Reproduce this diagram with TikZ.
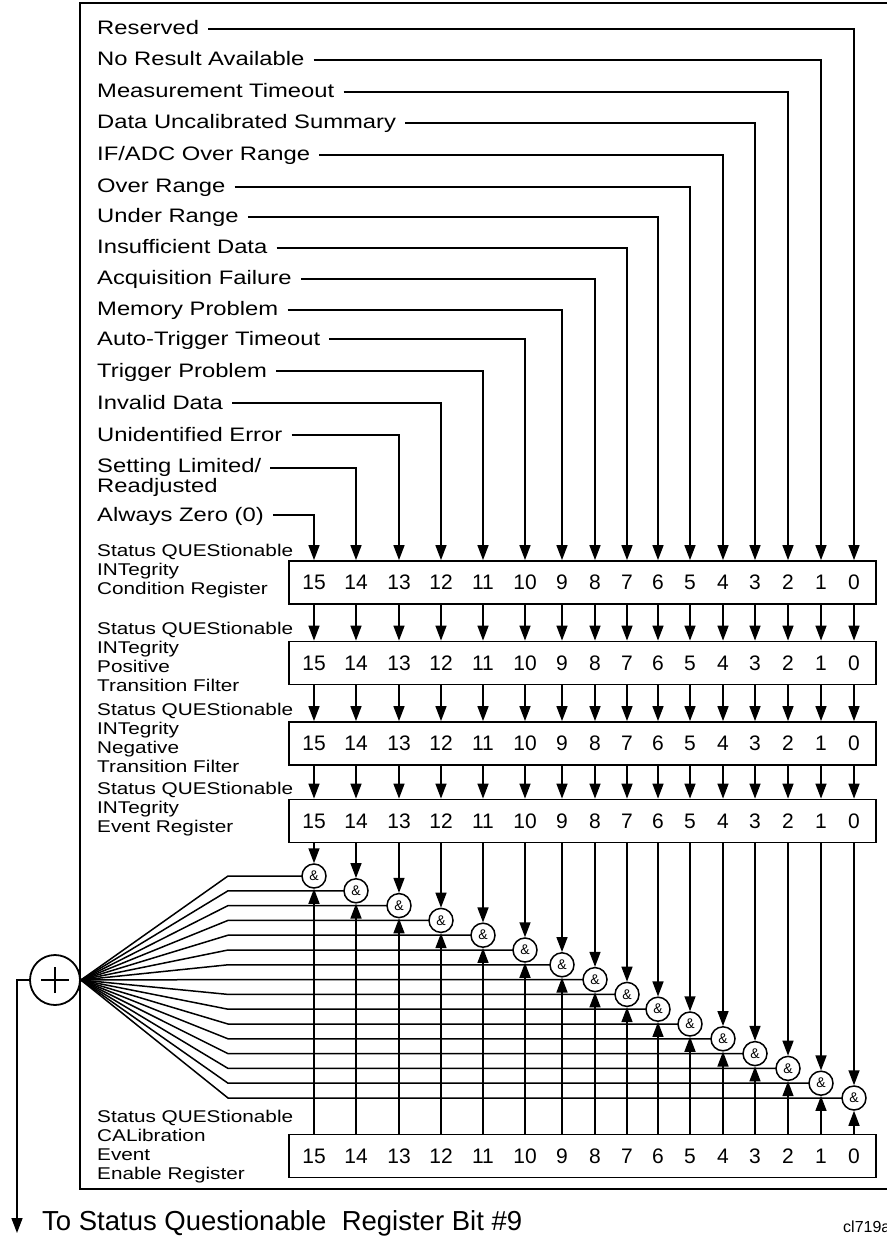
\documentclass[tikz,border=0pt]{standalone}
\usepackage{fontspec}
\setmainfont{Liberation Sans}
\newfontfamily\widefont{Liberation Sans}[FakeStretch=1.22]
\usetikzlibrary{arrows.meta,positioning}

\tikzstyle{regbox} = [rectangle, draw=black, line width=1.8pt, minimum width=587pt, minimum height=43pt, inner sep=0pt]
\tikzstyle{bitnum} = [font=\fontsize{21}{21}\selectfont, inner sep=0pt]
\tikzstyle{reglabel} = [font=\widefont\fontsize{17}{19}\selectfont, align=left, anchor=base west, inner sep=0pt]
\tikzstyle{source} = [font=\widefont\fontsize{19.5}{18}\selectfont, align=left, anchor=base west, inner sep=0pt]
\tikzstyle{gate} = [circle, draw=black, fill=white, line width=1.5pt, minimum size=24pt, inner sep=0pt, font=\fontsize{14}{14}\selectfont]
\tikzstyle{arrow} = [line width=1.5pt, -{Triangle[width=11pt,length=15pt]}]
\tikzstyle{wire} = [line width=1.5pt]

\begin{document}
\begin{tikzpicture}[x=1pt, y=-1pt]
\useasboundingbox (0,0) rectangle (886,1238);

% outer frame
\draw[line width=1.8pt] (892,3) -- (80,3) -- (80,1189) -- (892,1189);

% registers
\node (cond) [regbox] at (582.5,582.5) {};
\node (pos) [regbox] at (582.5,663) {};
\node (neg) [regbox] at (582.5,743.5) {};
\node (evt) [regbox] at (582.5,821) {};
\node (ena) [regbox] at (582.5,1156) {};

\foreach \reg in {cond,pos,neg,evt,ena}
  \foreach \b/\x in {15/314,14/356,13/399,12/441,11/483,10/525,9/562,8/595,7/627,6/658,5/690,4/723,3/755,2/788,1/821,0/854}
    \node (\reg-\b) [bitnum] at (\x,0 |- \reg.center) {\b};

% labels sit on the baseline of their last line
\node (condlabel) [reglabel] at (97,594) {Status QUEStionable\\INTegrity\\Condition Register};
\node (poslabel) [reglabel] at (97,691) {Status QUEStionable\\INTegrity\\Positive\\Transition Filter};
\node (neglabel) [reglabel] at (97,772) {Status QUEStionable\\INTegrity\\Negative\\Transition Filter};
\node (evtlabel) [reglabel] at (97,832) {Status QUEStionable\\INTegrity\\Event Register};
\node (enalabel) [reglabel] at (97,1179) {Status QUEStionable\\CALibration\\Event\\Enable Register};

% condition sources
\foreach \txt/\b/\y in {Reserved/0/29, No Result Available/1/60, Measurement Timeout/2/92, Data Uncalibrated Summary/3/123, {IF/ADC Over Range}/4/155, Over Range/5/187, Under Range/6/217, Insufficient Data/7/248, Acquisition Failure/8/279, Memory Problem/9/310, Auto-Trigger Timeout/10/339, Trigger Problem/11/371, Invalid Data/12/403, Unidentified Error/13/435, Always Zero (0)/15/515} {
  \node (src-\b) [source] at (97,{\y+6}) {\txt};
  \draw[arrow] ([xshift=9pt]src-\b.base east) ++(0,-6) -| (cond-\b |- cond.north);
}
\node (src-14) [source] at (97,492) {Setting Limited/\\Readjusted};
\draw[arrow] ([xshift=9pt]src-14.base east) ++(0,-24) -| (cond-14 |- cond.north);

% register to register
\foreach \b in {15,...,0} {
  \draw[arrow] (cond-\b |- cond.south) -- (pos-\b |- pos.north);
  \draw[arrow] (pos-\b |- pos.south) -- (neg-\b |- neg.north);
  \draw[arrow] (neg-\b |- neg.south) -- (evt-\b |- evt.north);
}

% summing node
\node (sum) [circle, draw=black, line width=1.8pt, minimum size=50pt, inner sep=0pt] at (55,980) {};
\draw[line width=2pt] ([xshift=-14pt]sum.center) -- ([xshift=14pt]sum.center);
\draw[line width=2pt] ([yshift=-13pt]sum.center) -- ([yshift=13pt]sum.center);

% and gates
\foreach \b/\x in {15/314,14/356,13/399,12/441,11/483,10/525,9/562,8/595,7/627,6/658,5/690,4/723,3/755,2/788,1/821,0/854} {
  \pgfmathsetmacro\ry{876+14.8*(15-\b)}
  \draw[wire] (sum.east) -- (228,\ry) -- (\x,\ry);
  \node (and-\b) [gate] at (\x,\ry) {\&};
  \draw[arrow] (evt-\b |- evt.south) -- (and-\b.north);
  \draw[arrow] (ena-\b |- ena.north) -- (and-\b.south);
}

% output
\coordinate (out) at (17,1233);
\draw[arrow] (sum.west) -| (out);
\node (dest) [font=\fontsize{27.5}{27.5}\selectfont, anchor=base west, inner sep=0pt] at (42,1230) {To Status Questionable~ Register Bit \#9};
\node (fig) [font=\fontsize{16}{16}\selectfont, anchor=base west, inner sep=0pt] at (843,1232) {cl719a};

\end{tikzpicture}
\end{document}
